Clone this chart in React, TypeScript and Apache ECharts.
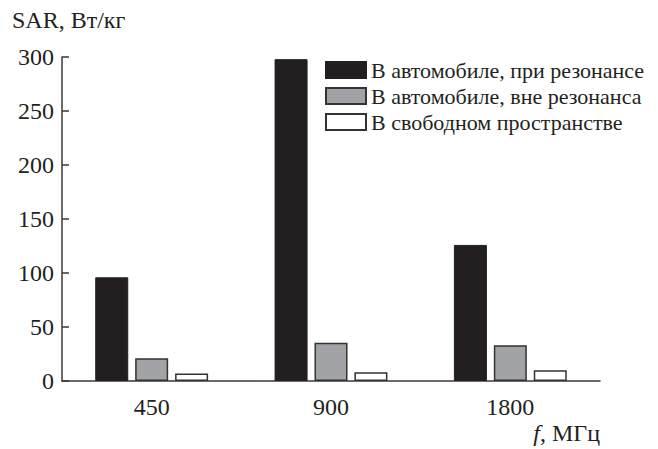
import React, { useEffect, useRef } from "react";
import * as echarts from "echarts";

const categories = ["450", "900", "1800"];
const seriesNames = [
  "В автомобиле, при резонансе",
  "В автомобиле, вне резонанса",
  "В свободном пространстве",
];
const resonance = [96, 298, 126];
const offResonance = [21, 35.5, 33];
const freeSpace = [7, 8, 10];
const yTicks = [0, 50, 100, 150, 200, 250, 300];

const FONT = "'Liberation Serif', 'Times New Roman', serif";

export default function App() {
  const ref = useRef<HTMLDivElement>(null);
  useEffect(() => {
    if (!ref.current) return;
    const chart = echarts.init(ref.current, null, { renderer: "svg" });
    const barBase = { type: "bar" as const, barWidth: 33, barGap: "21%" };
    chart.setOption({
      animation: false,
      backgroundColor: "#ffffff",
      textStyle: { fontFamily: FONT, color: "#231f20" },
      grid: { left: 54, right: 50, top: 49, bottom: 68 },
      legend: {
        orient: "vertical",
        left: 312,
        top: 46,
        icon: "rect",
        itemWidth: 40,
        itemHeight: 16,
        itemGap: 4,
        textStyle: { fontFamily: FONT, fontSize: 22, color: "#231f20" },
        data: seriesNames,
      },
      xAxis: {
        type: "category",
        data: categories,
        boundaryGap: true,
        axisLine: { lineStyle: { color: "#3a3a3a", width: 1.5 } },
        axisTick: { show: false },
        axisLabel: { fontFamily: FONT, fontSize: 24, color: "#231f20", margin: 14 },
      },
      yAxis: {
        type: "value",
        min: yTicks[0],
        max: yTicks[yTicks.length - 1],
        interval: 50,
        splitLine: { show: false },
        axisLine: { show: true, lineStyle: { color: "#3a3a3a", width: 1.5 } },
        axisTick: { show: true, inside: true, length: 7, lineStyle: { color: "#3a3a3a", width: 1.5 } },
        axisLabel: { fontFamily: FONT, fontSize: 24, color: "#231f20", margin: 8 },
      },
      graphic: [
        {
          type: "text",
          left: 4,
          top: 0,
          style: { text: "SAR, Вт/кг", font: `24px ${FONT}`, fill: "#231f20" },
        },
        {
          type: "text",
          right: 50,
          top: 413,
          style: {
            text: "{i|f}, МГц",
            font: `24px ${FONT}`,
            fill: "#231f20",
            rich: {
              i: { fontStyle: "italic", fontFamily: FONT, fontSize: 24, fill: "#231f20" },
            },
          },
        },
      ],
      series: [
        {
          ...barBase,
          name: seriesNames[0],
          data: resonance,
          itemStyle: { color: "#231f20", borderColor: "#231f20", borderWidth: 1 },
        },
        {
          ...barBase,
          name: seriesNames[1],
          data: offResonance,
          itemStyle: { color: "#a2a3a7", borderColor: "#333333", borderWidth: 1.5 },
        },
        {
          ...barBase,
          name: seriesNames[2],
          data: freeSpace,
          itemStyle: { color: "#ffffff", borderColor: "#333333", borderWidth: 1.5 },
        },
      ],
    });
    return () => chart.dispose();
  }, []);
  return <div ref={ref} style={{ width: 642, height: 441 }} />;
}
